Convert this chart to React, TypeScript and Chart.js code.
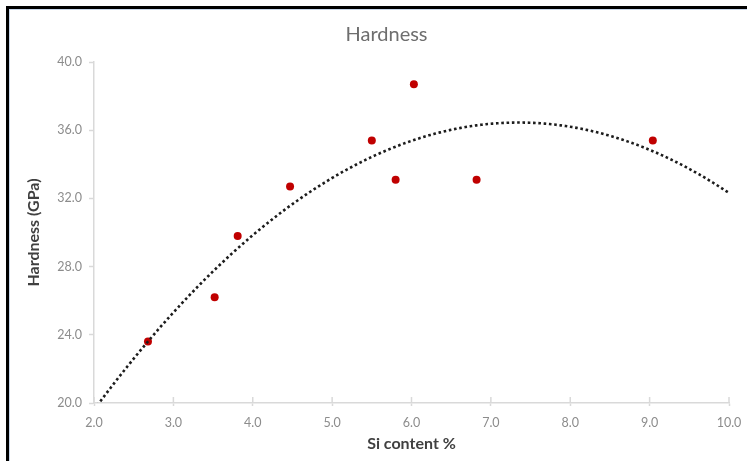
import React, { useEffect, useRef } from 'react';
import { Chart, registerables } from 'chart.js';

Chart.register(...registerables);

// ---- data ----
const siContent = [2.68, 3.52, 3.81, 4.47, 5.5, 5.8, 6.03, 6.82, 9.04];
const hardness = [23.6, 26.2, 29.8, 32.7, 35.4, 33.1, 38.7, 33.1, 35.4];
const xTickValues = [2, 3, 4, 5, 6, 7, 8, 9, 10];
const yTickValues = [20, 24, 28, 32, 36, 40];
const chartTitle = 'Hardness';
const xAxisTitle = 'Si content %';
const yAxisTitle = 'Hardness (GPa)';

// least-squares polynomial (order 2) trendline, like the spreadsheet's
function polyFit2(xs: number[], ys: number[]): number[] {
  const n = xs.length;
  let s1 = 0, s2 = 0, s3 = 0, s4 = 0, t0 = 0, t1 = 0, t2 = 0;
  for (let i = 0; i < n; i++) {
    const x = xs[i], y = ys[i];
    s1 += x; s2 += x * x; s3 += x ** 3; s4 += x ** 4;
    t0 += y; t1 += x * y; t2 += x * x * y;
  }
  const M = [
    [n, s1, s2, t0],
    [s1, s2, s3, t1],
    [s2, s3, s4, t2],
  ];
  for (let c = 0; c < 3; c++) {
    let p = c;
    for (let r = c + 1; r < 3; r++) if (Math.abs(M[r][c]) > Math.abs(M[p][c])) p = r;
    [M[c], M[p]] = [M[p], M[c]];
    for (let r = 0; r < 3; r++) {
      if (r === c) continue;
      const f = M[r][c] / M[c][c];
      for (let k = c; k < 4; k++) M[r][k] -= f * M[c][k];
    }
  }
  return [M[0][3] / M[0][0], M[1][3] / M[1][1], M[2][3] / M[2][2]];
}

const FONT = 'Lato, "Open Sans", "DejaVu Sans", sans-serif';
const AXIS_GREY = '#d9d9d9';

// title centred on the whole (wider, cropped) chart object
const titlePlugin = {
  id: 'centredTitle',
  afterDraw(chart: any) {
    const { ctx } = chart;
    ctx.save();
    ctx.font = `normal 20px ${FONT}`;
    ctx.fillStyle = '#6e6e6e';
    ctx.textAlign = 'center';
    ctx.textBaseline = 'middle';
    ctx.fillText(chartTitle, chart.width / 2, 35);
    ctx.restore();
  },
};

// x-axis tick marks cross the axis line: draw the part above the line
const crossTickPlugin = {
  id: 'crossTicks',
  beforeDatasetsDraw(chart: any) {
    const { ctx } = chart;
    const xs = chart.scales.x;
    const bottom = chart.chartArea.bottom;
    ctx.save();
    ctx.strokeStyle = AXIS_GREY;
    ctx.lineWidth = 1.5;
    ctx.beginPath();
    xTickValues.forEach((v) => {
      const px = xs.getPixelForValue(v);
      ctx.moveTo(px, bottom - 6);
      ctx.lineTo(px, bottom);
    });
    ctx.stroke();
    ctx.restore();
  },
};

export default function App() {
  const ref = useRef<HTMLCanvasElement>(null);

  useEffect(() => {
    if (!ref.current) return;
    const [a0, a1, a2] = polyFit2(siContent, hardness);
    const xMin = xTickValues[0];
    const xMax = xTickValues[xTickValues.length - 1];
    const trend: { x: number; y: number }[] = [];
    const steps = 400;
    for (let i = 0; i <= steps; i++) {
      const x = xMin + ((xMax - xMin) * i) / steps;
      trend.push({ x, y: a0 + a1 * x + a2 * x * x });
    }
    const points = siContent.map((x, i) => ({ x, y: hardness[i] }));

    const chart = new Chart(ref.current, {
      type: 'scatter',
      data: {
        datasets: [
          {
            label: 'Trend',
            data: trend,
            showLine: true,
            borderColor: '#1c1c1c',
            borderWidth: 2.6,
            borderDash: [2.6, 2.7],
            pointRadius: 0,
            tension: 0,
          } as any,
          {
            label: 'Hardness',
            data: points,
            backgroundColor: '#C00000',
            borderColor: '#C00000',
            pointRadius: 4,
            pointBorderWidth: 0,
          },
        ],
      },
      plugins: [titlePlugin, crossTickPlugin],
      options: {
        animation: false,
        responsive: false,
        devicePixelRatio: 1,
        layout: { padding: { left: 0, right: 44, top: 62, bottom: 0 } },
        plugins: {
          legend: { display: false },
          tooltip: { enabled: false },
          title: { display: false },
        },
        scales: {
          x: {
            type: 'linear',
            min: xMin,
            max: xMax,
            afterBuildTicks: (s: any) => {
              s.ticks = xTickValues.map((v) => ({ value: v }));
            },
            afterFit: (s: any) => {
              s.height = 58;
            },
            grid: {
              drawOnChartArea: false,
              drawTicks: true,
              tickLength: 3,
              tickColor: AXIS_GREY,
              tickWidth: 1.5,
            },
            border: { color: AXIS_GREY, width: 1.5 },
            ticks: {
              color: '#8c8c8c',
              font: { family: FONT, size: 12.5 },
              padding: 9,
              maxRotation: 0,
              callback: (v: any) => Number(v).toFixed(1),
            },
            title: {
              display: true,
              text: xAxisTitle,
              color: '#404040',
              font: { family: FONT, size: 16, weight: 'bold' },
              padding: { top: 0, bottom: 8 },
            },
          },
          y: {
            type: 'linear',
            min: yTickValues[0],
            max: yTickValues[yTickValues.length - 1],
            afterBuildTicks: (s: any) => {
              s.ticks = yTickValues.map((v) => ({ value: v }));
            },
            afterFit: (s: any) => {
              s.width = 94;
            },
            grid: {
              drawOnChartArea: false,
              drawTicks: true,
              tickLength: 5,
              tickColor: AXIS_GREY,
              tickWidth: 1.5,
            },
            border: { color: AXIS_GREY, width: 1.5 },
            ticks: {
              color: '#8c8c8c',
              font: { family: FONT, size: 12.5 },
              padding: 7,
              callback: (v: any) => Number(v).toFixed(1),
            },
            title: {
              display: true,
              text: yAxisTitle,
              color: '#404040',
              font: { family: FONT, size: 16, weight: 'bold' },
              padding: { top: 24, bottom: 0 },
            },
          },
        },
      },
    });
    return () => chart.destroy();
  }, []);

  return (
    <div
      style={{
        position: 'fixed',
        left: 0,
        top: 0,
        width: 747,
        height: 461,
        overflow: 'hidden',
        background: '#ffffff',
      }}
    >
      <canvas
        ref={ref}
        width={773}
        height={461}
        style={{ position: 'absolute', left: 0, top: 0, width: 773, height: 461 }}
      />
      <div
        style={{
          position: 'absolute',
          left: 6,
          top: 6,
          right: -10,
          bottom: -10,
          borderTop: '3px solid #000',
          borderLeft: '3px solid #000',
          pointerEvents: 'none',
        }}
      >
        <div
          style={{
            position: 'absolute',
            left: 0,
            top: 0,
            right: 0,
            bottom: 0,
            borderTop: '1.5px solid #c9d7ea',
            borderLeft: '1.5px solid #c9d7ea',
          }}
        />
      </div>
    </div>
  );
}
